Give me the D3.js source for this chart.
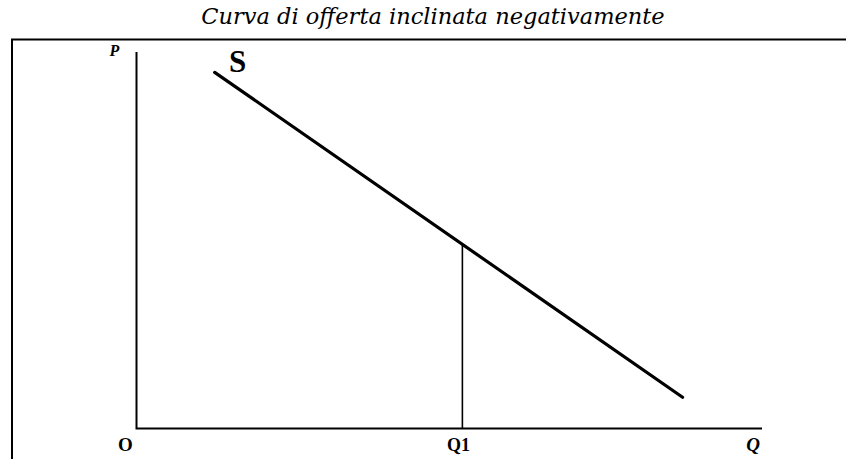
<!DOCTYPE html>
<html>
<head>
<meta charset="utf-8">
<script src="https://cdn.jsdelivr.net/npm/d3@7"></script>
<style>
  html, body { margin: 0; padding: 0; background: #fff; }
  svg { display: block; }
  .title { font-family: "DejaVu Serif", serif; font-style: italic; font-size: 22.5px; }
  .lbl { font-family: "Liberation Serif", "Times New Roman", serif; font-weight: bold; }
</style>
</head>
<body>
<svg id="chart" width="846" height="459"></svg>
<script>
// Quantities and prices in arbitrary units (0–100 on each axis)
const supplyQ = [12.5, 87.3];
const supplyP = [94.6, 8.3];
const q1Value = [52.1];
const axisLabels = ["P", "Q", "O", "Q1", "S"];
const titleText = "Curva di offerta inclinata negativamente";

const svg = d3.select("#chart");
const W = 846, H = 459;

const x = d3.scaleLinear().domain([0, 100]).range([136.5, 762]);
const y = d3.scaleLinear().domain([0, 100]).range([428.5, 52]);

// Title
svg.append("text")
  .attr("class", "title")
  .attr("x", 433).attr("y", 24)
  .attr("text-anchor", "middle")
  .attr("fill", "#000")
  .text(titleText);

// Frame: left and top edges of the panel
svg.append("path")
  .attr("d", `M12,${H} V39.5 H${W}`)
  .attr("fill", "none")
  .attr("stroke", "#000")
  .attr("stroke-width", 2);

// Axes
svg.append("path")
  .attr("d", `M${x(0)},${y(100)} V${y(0)} H${x(100)}`)
  .attr("fill", "none")
  .attr("stroke", "#000")
  .attr("stroke-width", 2);

// Supply curve
const line = d3.line().x(d => x(d[0])).y(d => y(d[1]));
const pts = supplyQ.map((q, i) => [q, supplyP[i]]);
svg.append("path")
  .attr("d", line(pts))
  .attr("fill", "none")
  .attr("stroke", "#000")
  .attr("stroke-width", 3.2)
  .attr("stroke-linecap", "round");

// Vertical drop at Q1 to the curve
const slope = (supplyP[1] - supplyP[0]) / (supplyQ[1] - supplyQ[0]);
const p1 = supplyP[0] + slope * (q1Value[0] - supplyQ[0]);
svg.append("line")
  .attr("x1", x(q1Value[0])).attr("x2", x(q1Value[0]))
  .attr("y1", y(p1)).attr("y2", y(0))
  .attr("stroke", "#000")
  .attr("stroke-width", 1.6);

// Labels
function label(t, lx, ly, size, italic) {
  svg.append("text")
    .attr("class", "lbl")
    .attr("x", lx).attr("y", ly)
    .attr("text-anchor", "middle")
    .style("font-size", size + "px")
    .style("font-style", italic ? "italic" : "normal")
    .attr("fill", "#000")
    .text(t);
}
label(axisLabels[0], x(0) - 22, 56, 16, true);
label(axisLabels[1], x(100) - 9, 451, 19, true);
label(axisLabels[2], x(0) - 11, 451, 19, false);
label(axisLabels[3], x(q1Value[0]) - 4, 451, 18, false);
label(axisLabels[4], x(supplyQ[0]) + 23, 72, 31, false);
</script>
</body>
</html>
